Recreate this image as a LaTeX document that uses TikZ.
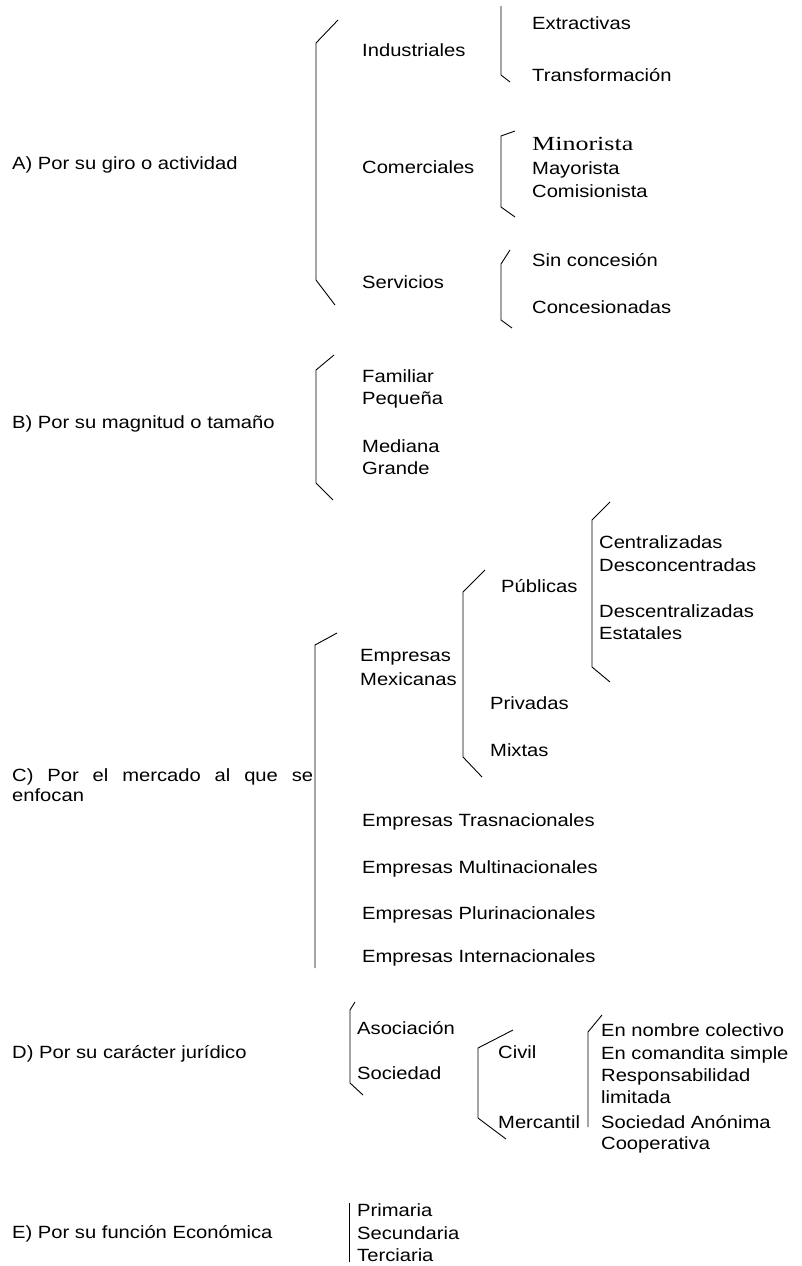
\documentclass[tikz,border=0pt]{standalone}
\usepackage{fontspec}
\setmainfont{Liberation Sans}[FakeStretch=1.14]
\newfontfamily\romana{Liberation Serif}[FakeStretch=1.3]
\begin{document}
\begin{tikzpicture}[
			x=1pt, y=-1pt,
			txt/.style={anchor=west, inner sep=0pt, text height=12.7pt, text depth=0pt, font=\fontsize{17.7}{20}\selectfont},
			llave/.style={draw, line width=0.9pt, line join=round}
			]
			
			\useasboundingbox[fill=white] (0,0) rectangle (802,1266);
			
			\node[txt] (giro) at (12,163) {A) Por su giro o actividad};
			\node[txt] (ind) at (362,50) {Industriales};
			\node[txt] (com) at (362,167) {Comerciales};
			\node[txt] (serv) at (362,282) {Servicios};
			\node[txt] (extr) at (532,23) {Extractivas};
			\node[txt] (transf) at (532,75) {Transformación};
			\node[txt, font=\romana\fontsize{20}{22}\selectfont] (minor) at (532,144) {Minorista};
			\node[txt] (mayor) at (532,168) {Mayorista};
			\node[txt] (comis) at (532,191) {Comisionista};
			\node[txt] (sinc) at (532,260) {Sin concesión};
			\node[txt] (conc) at (532,307) {Concesionadas};
			
			\node[txt] (tam) at (12,422) {B) Por su magnitud o tamaño};
			\node[txt] (fam) at (362,376) {Familiar};
			\node[txt] (peq) at (362,398) {Pequeña};
			\node[txt] (med) at (362,446) {Mediana};
			\node[txt] (gra) at (362,468) {Grande};
			
			\node[txt] (merc) at (12,775) {\makebox[301pt][s]{C) Por el mercado al que se}};
			\node[txt] (merc2) at (12,795) {enfocan};
			\node[txt] (emp) at (360,655) {Empresas};
			\node[txt] (mex) at (360,679) {Mexicanas};
			\node[txt] (pub) at (501,586) {Públicas};
			\node[txt] (cent) at (599,542) {Centralizadas};
			\node[txt] (desc) at (599,565) {Desconcentradas};
			\node[txt] (desce) at (599,611) {Descentralizadas};
			\node[txt] (est) at (599,633) {Estatales};
			\node[txt] (priv) at (490,703) {Privadas};
			\node[txt] (mix) at (490,750) {Mixtas};
			\node[txt] (tras) at (362,820) {Empresas Trasnacionales};
			\node[txt] (mult) at (362,867) {Empresas Multinacionales};
			\node[txt] (plur) at (362,913) {Empresas Plurinacionales};
			\node[txt] (inter) at (362,956) {Empresas Internacionales};
			
			\node[txt] (jur) at (12,1052) {D) Por su carácter jurídico};
			\node[txt] (asoc) at (357,1028) {Asociación};
			\node[txt] (soc) at (357,1073) {Sociedad};
			\node[txt] (civ) at (498,1052) {Civil};
			\node[txt] (mer) at (498,1122) {Mercantil};
			\node[txt] (nom) at (601,1030) {En nombre colectivo};
			\node[txt] (coma) at (601,1053) {En comandita simple};
			\node[txt] (resp) at (601,1075) {Responsabilidad};
			\node[txt] (lim) at (601,1097) {limitada};
			\node[txt] (anon) at (601,1122) {Sociedad Anónima};
			\node[txt] (coop) at (601,1143) {Cooperativa};
			
			\node[txt] (econ) at (12,1232) {E) Por su función Económica};
			\node[txt] (prim) at (357,1210) {Primaria};
			\node[txt] (secu) at (357,1233) {Secundaria};
			\node[txt] (terc) at (357,1255) {Terciaria};
			
			\draw[llave] (338,20) -- (316,43) -- (316,280) -- (335,305);
			\draw[llave] (501,6) -- (501,75) -- (510,82);
			\draw[llave] (515,131) -- (501,136) -- (501,207) -- (515,217);
			\draw[llave] (510,250) -- (501,264) -- (501,320) -- (512,328);
			\draw[llave] (334,355) -- (316,370) -- (316,483) -- (333,500);
			\draw[llave] (337,633) -- (315,645) -- (315,968);
			\draw[llave] (485,570) -- (463,592) -- (463,757) -- (482,777);
			\draw[llave] (610,502) -- (592,520) -- (592,667) -- (610,682);
			\draw[llave] (355,1002) -- (350,1010) -- (350,1083) -- (363,1095);
			\draw[llave] (513,1030) -- (478,1048) -- (478,1118) -- (506,1139);
			\draw[llave] (602,1015) -- (588,1032) -- (588,1127);
			\draw[llave] (349,1203) -- (349,1262);
		\end{tikzpicture}
\end{document}
